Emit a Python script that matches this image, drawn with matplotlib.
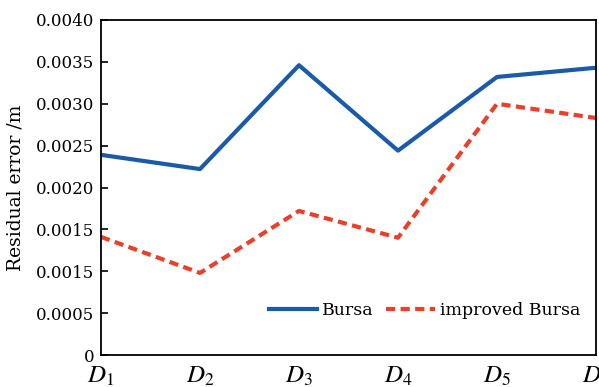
import numpy as np
import matplotlib
matplotlib.use("Agg")
import matplotlib.pyplot as plt

plt.rcParams['font.family'] = ['DejaVu Serif', 'Liberation Serif']
plt.rcParams['mathtext.fontset'] = 'stix'

points = ["$D_1$", "$D_2$", "$D_3$", "$D_4$", "$D_5$", "$D_6$"]
bursa = [0.00239, 0.00222, 0.00346, 0.00244, 0.00332, 0.00343]
improved = [0.00141, 0.00098, 0.00172, 0.00140, 0.00300, 0.00283]
ytick_vals = [0, 0.0005, 0.0010, 0.0015, 0.0020, 0.0025, 0.0030, 0.0035, 0.0040]
# labels as printed in the source figure (0.0010 is labelled 0.0015 there)
ytick_labels = ["0", "0.0005", "0.0015", "0.0015", "0.0020", "0.0025", "0.0030", "0.0035", "0.0040"]

fig = plt.figure(figsize=(5.99, 3.87), dpi=100)
ax = fig.add_axes([101 / 599, 32 / 387, 495 / 599, 335 / 387])

x = np.arange(len(points))
ax.plot(x, bursa, color='#1a5aa8', lw=3, label='Bursa')
ax.plot(x, improved, color='#e8402a', lw=3, ls=(0, (2.2, 1.3)), label='improved Bursa')

ax.set_xlim(0, 5)
ax.set_ylim(0, 0.004)
ax.set_xticks(x)
ax.set_xticklabels(points, fontsize=18)
ax.tick_params(axis='x', length=0, pad=7)
ax.set_yticks(ytick_vals)
ax.set_yticklabels(ytick_labels, fontsize=12)
ax.tick_params(axis='y', direction='in', length=5, width=1.2, pad=5)
ax.set_ylabel('Residual error /m', fontsize=13.5, labelpad=8)
for s in ax.spines.values():
    s.set_linewidth(1.3)

ax.legend(loc='lower right', ncol=2, frameon=False, fontsize=12.5,
          handlelength=2.8, columnspacing=0.7, handletextpad=0.3,
          bbox_to_anchor=(1.0, 0.06))

fig.savefig("out.png", dpi=100)
